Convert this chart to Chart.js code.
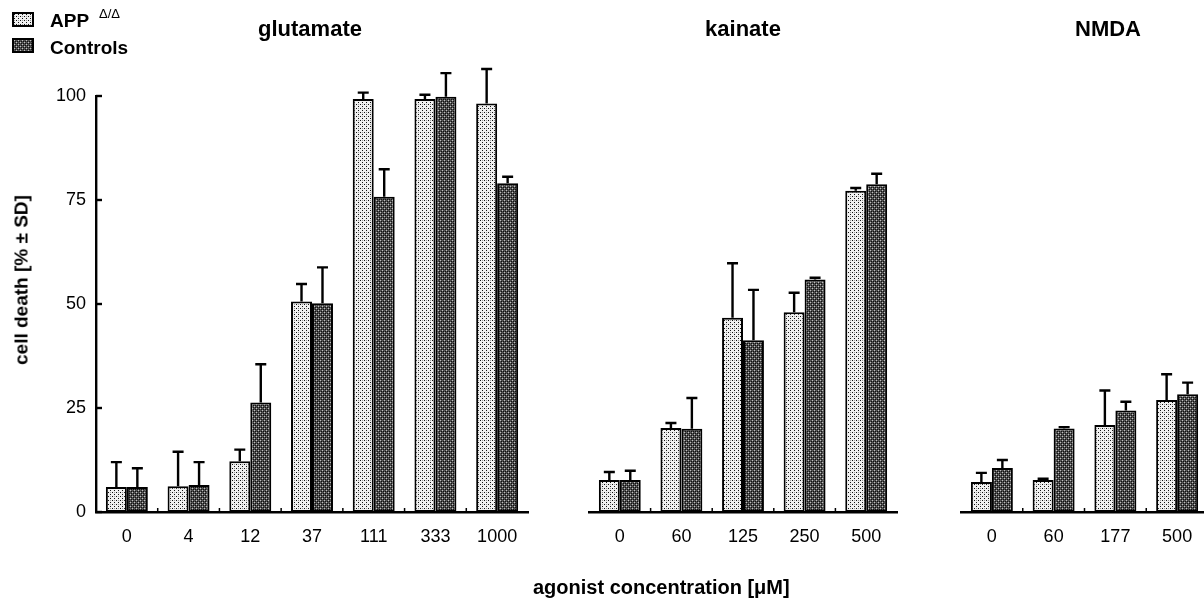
<!DOCTYPE html>
<html><head><meta charset="utf-8">
<script src="https://cdn.jsdelivr.net/npm/chart.js@4.4.1/dist/chart.umd.min.js"></script>
<style>
html,body{margin:0;padding:0;background:#fff;overflow:hidden;}
#wrap{position:relative;width:1204px;height:599px;overflow:hidden;font-family:"Liberation Sans",Arial,sans-serif;color:#000;}
.pan{position:absolute;top:0;}
.txt{position:absolute;font-weight:bold;white-space:nowrap;line-height:1;}
</style></head>
<body><div id="wrap">
<div class="pan" style="left:0px;width:540px;height:599px"><canvas id="cG" width="540" height="599"></canvas></div>
<div class="pan" style="left:560px;width:360px;height:599px"><canvas id="cK" width="360" height="599"></canvas></div>
<div class="pan" style="left:930px;width:320px;height:599px"><canvas id="cN" width="320" height="599"></canvas></div>
<canvas id="sw1" width="22" height="15" style="position:absolute;left:12px;top:12px"></canvas>
<canvas id="sw2" width="22" height="15" style="position:absolute;left:12px;top:38px"></canvas>
<div class="txt" style="left:50px;top:11px;font-size:19px">APP</div>
<div class="txt" style="left:99px;top:7px;font-size:13px;font-weight:normal">Δ/Δ</div>
<div class="txt" style="left:50px;top:38px;font-size:19px">Controls</div>
<div class="txt" style="left:310px;top:18px;font-size:22px;transform:translateX(-50%)">glutamate</div>
<div class="txt" style="left:743px;top:18px;font-size:22px;transform:translateX(-50%)">kainate</div>
<div class="txt" style="left:1108px;top:18px;font-size:22px;transform:translateX(-50%)">NMDA</div>
<div class="txt" style="left:533px;top:577px;font-size:20px">agonist concentration [μM]</div>
<div class="txt" style="left:21px;top:280px;font-size:19px;transform:translate(-50%,-50%) rotate(-90deg)">cell death [% ± SD]</div>
</div>
<script>
// ---- data ----
const gluLabels = ['0','4','12','37','111','333','1000'];
const gluApp    = [6, 6.2, 12.2, 50.6, 99.3, 99.3, 98.2];
const gluAppSd  = [6, 8.3, 2.8, 4.2, 1.5, 1.0, 8.3];
const gluCtl    = [6, 6.5, 26.3, 50.2, 75.8, 99.8, 79.0];
const gluCtlSd  = [4.5, 5.5, 9.2, 8.6, 6.6, 5.7, 1.6];

const kaiLabels = ['0','60','125','250','500'];
const kaiApp    = [7.7, 20.2, 46.7, 48.0, 77.2];
const kaiAppSd  = [1.9, 1.2, 13.1, 4.7, 0.7];
const kaiCtl    = [7.7, 20.0, 41.3, 55.9, 78.8];
const kaiCtlSd  = [2.2, 7.4, 12.1, 0.4, 2.5];

const nmdaLabels = ['0','60','177','500'];
const nmdaApp    = [7.2, 7.7, 20.9, 26.9];
const nmdaAppSd  = [2.2, 0.3, 8.3, 6.2];
const nmdaCtl    = [10.6, 20.1, 24.4, 28.3];
const nmdaCtlSd  = [1.9, 0.3, 2.1, 2.8];

const yTicks = [0, 25, 50, 75, 100];

// ---- patterns ----
function makePattern(kind){
  const c = document.createElement('canvas'); c.width = 4; c.height = 4;
  const x = c.getContext('2d');
  if(kind==='app'){
    x.fillStyle='#f0f0f0'; x.fillRect(0,0,4,4);
    x.fillStyle='#111'; x.fillRect(0,0,1,1); x.fillRect(2,2,1,1);
    x.fillStyle='#9a9a9a'; x.fillRect(2,0,1,1);
  } else {
    x.fillStyle='#505050'; x.fillRect(0,0,4,4);
    x.fillStyle='#c0c0c0'; x.fillRect(0,0,1,1); x.fillRect(2,2,1,1);
    x.fillStyle='#111'; x.fillRect(1,1,1,1); x.fillRect(3,3,1,1); x.fillRect(3,1,1,1); x.fillRect(1,3,1,1);
  }
  return document.createElement('canvas').getContext('2d').createPattern(c,'repeat');
}
const patApp = makePattern('app');
const patCtl = makePattern('ctl');

function swatch(id, pat){
  const c=document.getElementById(id), x=c.getContext('2d');
  x.fillStyle=pat; x.fillRect(0,0,c.width,c.height);
  x.strokeStyle='#000'; x.lineWidth=2; x.strokeRect(1,1,c.width-2,c.height-2);
}
swatch('sw1', patApp); swatch('sw2', patCtl);

const FONT = "'Liberation Sans', Arial, sans-serif";

const axisPlugin = {
  id:'axisExtras',
  afterDatasetsDraw(chart){
    const ctx = chart.ctx, ys = chart.scales.y, xs = chart.scales.x;
    ctx.save();
    ctx.strokeStyle='#000'; ctx.lineWidth=2.4; ctx.lineCap='butt';
    // error bars (upper only)
    chart.data.datasets.forEach((ds, di)=>{
      const meta = chart.getDatasetMeta(di);
      meta.data.forEach((el, i)=>{
        const top = ys.getPixelForValue(ds.data[i] + ds.sd[i]);
        ctx.beginPath();
        ctx.moveTo(el.x, el.y); ctx.lineTo(el.x, top);
        ctx.moveTo(el.x-5.5, top); ctx.lineTo(el.x+5.5, top);
        ctx.stroke();
      });
    });
    // x-axis boundary ticks (inward)
    const n = chart.data.labels.length;
    const half = (xs.getPixelForValue(1)-xs.getPixelForValue(0))/2;
    ctx.lineWidth=1.5;
    for(let i=0;i<n-1;i++){
      const px = xs.getPixelForValue(i)+half;
      ctx.beginPath(); ctx.moveTo(px, xs.top); ctx.lineTo(px, xs.top-4); ctx.stroke();
    }
    // y-axis ticks (inward)
    if (ys.options.display){
      ctx.lineWidth=2.4;
      ys.ticks.forEach((t,i)=>{
        const py = ys.getPixelForTick(i);
        ctx.beginPath(); ctx.moveTo(ys.right, py); ctx.lineTo(ys.right+6, py); ctx.stroke();
      });
    }
    ctx.restore();
  }
};

function makeChart(id, labels, app, appSd, ctl, ctlSd, showY, padL, padR){
  return new Chart(document.getElementById(id), {
    type:'bar',
    data:{ labels, datasets:[
      {label:'APP Δ/Δ', data:app, sd:appSd, backgroundColor:patApp, borderColor:'#000', borderWidth:2, borderSkipped:false},
      {label:'Controls', data:ctl, sd:ctlSd, backgroundColor:patCtl, borderColor:'#000', borderWidth:2, borderSkipped:false}
    ]},
    options:{
      responsive:false, animation:false, devicePixelRatio:1,
      layout:{padding:{left:padL, right:padR, top:96, bottom:0}},
      plugins:{legend:{display:false}, tooltip:{enabled:false}, title:{display:false}},
      datasets:{bar:{categoryPercentage:0.68, barPercentage:1}},
      scales:{
        x:{
          grid:{display:false, drawTicks:false},
          border:{display:true, color:'#000', width:2.4},
          ticks:{color:'#000', font:{family:FONT, size:18}, padding:14, maxRotation:0},
          afterFit(s){ s.height = 599-512; }
        },
        y:{
          display:showY, min:0, max:100,
          afterBuildTicks(s){ s.ticks = yTicks.map(v=>({value:v})); },
          grid:{display:false, drawTicks:false},
          border:{display:true, color:'#000', width:2.4},
          ticks:{color:'#000', font:{family:FONT, size:18}, padding:10},
          afterFit(s){ s.width = showY ? 96 - padL : 0; }
        }
      }
    },
    plugins:[axisPlugin]
  });
}

makeChart('cG', gluLabels, gluApp, gluAppSd, gluCtl, gluCtlSd, true, 0, 12);
makeChart('cK', kaiLabels, kaiApp, kaiAppSd, kaiCtl, kaiCtlSd, false, 29, 23);
makeChart('cN', nmdaLabels, nmdaApp, nmdaAppSd, nmdaCtl, nmdaCtlSd, false, 31, 42);
</script>
</body></html>
